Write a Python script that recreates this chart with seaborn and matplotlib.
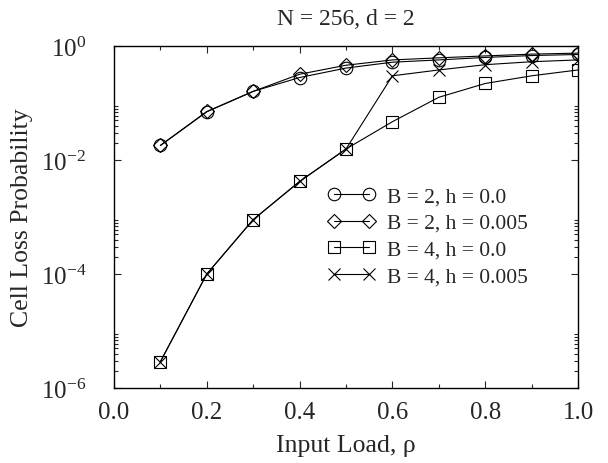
import numpy as np
import pandas as pd
import matplotlib
matplotlib.use("Agg")
import matplotlib.pyplot as plt
import matplotlib.ticker as mticker
import seaborn as sns

# input load values
rho = [0.1, 0.2, 0.3, 0.4, 0.5, 0.6, 0.7, 0.8, 0.9, 1.0]

# cell loss probability
b2_h0 = [0.018, 0.070, 0.16, 0.28, 0.41, 0.52, 0.57, 0.63, 0.68, 0.71]
b2_h005 = [0.018, 0.071, 0.16, 0.32, 0.46, 0.57, 0.62, 0.67, 0.72, 0.75]
b4_h0 = [2.9e-6, 1.0e-4, 9.0e-4, 4.2e-3, 0.0156, 0.047, 0.126, 0.22, 0.30, 0.38]
b4_h005 = [2.9e-6, 1.0e-4, 9.0e-4, 4.2e-3, 0.0156, 0.30, 0.38, 0.47, 0.53, 0.57]

labels = ["B = 2, h = 0.0", "B = 2, h = 0.005", "B = 4, h = 0.0", "B = 4, h = 0.005"]
markers = ["o", "D", "s", "x"]
sizes = [9, 7, 8.5, 8]

df = pd.DataFrame({
    "rho": rho * 4,
    "clp": b2_h0 + b2_h005 + b4_h0 + b4_h005,
    "series": np.repeat(labels, len(rho)),
})

sns.set_style("ticks")
plt.rcParams["font.family"] = ["Liberation Serif", "DejaVu Serif"]
plt.rcParams["mathtext.fontset"] = "custom"
plt.rcParams["mathtext.rm"] = "Liberation Serif"
plt.rcParams["axes.unicode_minus"] = False

fig = plt.figure(figsize=(6.08, 4.64), dpi=100)
ax = fig.add_axes([0.1875, 0.1616, 0.7632, 0.7371])

for lab, m, s in zip(labels, markers, sizes):
    sub = df[df["series"] == lab]
    sns.lineplot(data=sub, x="rho", y="clp", ax=ax, color="black", lw=0.8,
                 marker=m, ms=s, mfc="none", mec="black", mew=0.8, label=lab)

ax.set_yscale("log")
ax.set_xlim(0, 1)
ax.set_ylim(1e-6, 1)
ax.xaxis.set_major_locator(mticker.MultipleLocator(0.2))
ax.xaxis.set_minor_locator(mticker.MultipleLocator(0.1))
ax.xaxis.set_major_formatter(mticker.FormatStrFormatter("%.1f"))
ax.yaxis.set_major_locator(mticker.FixedLocator([1e-6, 1e-4, 1e-2, 1e0]))
minor = [k * 10.0 ** e for e in (-6, -4, -2) for k in range(2, 10)]
ax.yaxis.set_minor_locator(mticker.FixedLocator(minor))
ax.yaxis.set_minor_formatter(mticker.NullFormatter())
ax.tick_params(which="both", direction="in", top=True, right=True, labelsize=18)
ax.tick_params(which="major", length=5, width=0.8)
ax.tick_params(axis="x", which="major", pad=9)
ax.tick_params(axis="y", which="major", pad=20)
ax.tick_params(which="minor", length=3, width=0.8)
for sp in ax.spines.values():
    sp.set_linewidth(1.0)
    sp.set_color("black")

ax.set_xlabel("Input Load, ρ", fontsize=18.5, labelpad=8)
ax.set_ylabel("Cell Loss Probability", fontsize=18.5)
ax.yaxis.set_label_coords(-0.174, 0.5)
ax.set_title("N = 256, d = 2", fontsize=17, pad=16)

ax.legend(loc="upper left", bbox_to_anchor=(0.461, 0.59), frameon=False,
          fontsize=15.5, numpoints=2, handlelength=2.2, handletextpad=0.55,
          labelspacing=0.31, borderpad=0, borderaxespad=0)

fig.savefig("out.png", dpi=100)
